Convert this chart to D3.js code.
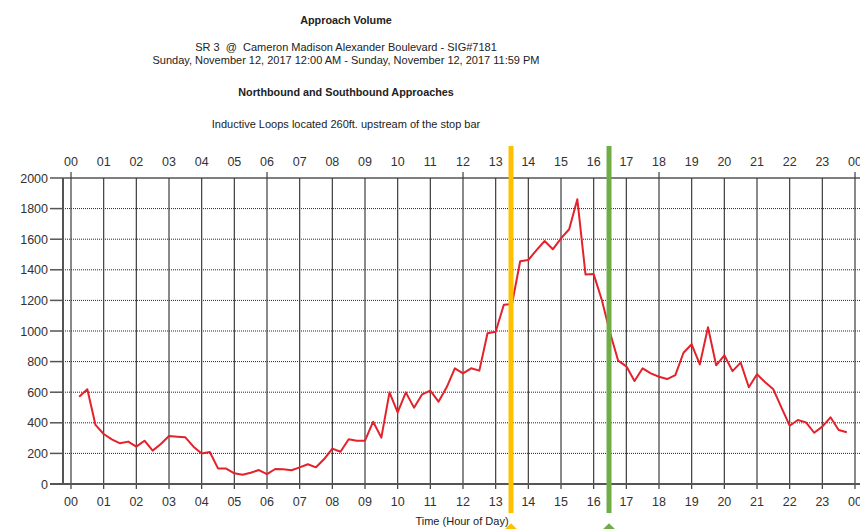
<!DOCTYPE html>
<html>
<head>
    <title>Approach Volume</title>
    <script src="https://d3js.org/d3.v7.min.js"></script>
    <style>
        body { margin: 0; background: #fff; }
        text { font-family: "Liberation Sans", Arial, sans-serif; fill: #222; }
        .title { font-weight: bold; font-size: 10.8px; white-space: pre; }
        .sub { font-size: 11px; white-space: pre; }
        .tick-label { font-size: 12.5px; fill: #333; }
    </style>
</head>
<body>
    <div id="chart"></div>

    <script>
        // volume per 15 minutes, first reading at 00:15, last at 23:45
        const volumes = [
            571, 619, 386,
            327, 292, 266, 277,
            244, 283, 218, 261,
            314, 309, 305, 244,
            200, 209, 102, 101,
            70, 60, 74, 91,
            65, 98, 97, 90,
            109, 129, 109, 163,
            231, 211, 292, 283,
            283, 407, 303, 599,
            468, 599, 499, 586,
            610, 538, 632, 756,
            723, 756, 741, 985,
            995, 1172, 1176, 1456,
            1464, 1529, 1588, 1534,
            1605, 1665, 1861, 1370,
            1372, 1203, 990, 806,
            769, 673, 756, 723,
            701, 686, 712, 858,
            913, 782, 1024, 776,
            841, 738, 793, 632,
            717, 665, 619, 499,
            381, 418, 403, 335,
            375, 436, 353, 338
        ];
        const hourTicks = d3.range(0, 25);
        const hourLabels = ["00","01","02","03","04","05","06","07","08","09","10","11",
                            "12","13","14","15","16","17","18","19","20","21","22","23","00"];
        const yTicks = [0, 200, 400, 600, 800, 1000, 1200, 1400, 1600, 1800, 2000];
        const markers = [
            { hour: 13.47, color: "#FFC000" },
            { hour: 16.47, color: "#70AD47" }
        ];
        const titles = [
            { text: "Approach Volume", y: 24, cls: "title" },
            { text: "SR 3  @  Cameron Madison Alexander Boulevard - SIG#7181", y: 51, cls: "sub" },
            { text: "Sunday, November 12, 2017 12:00 AM - Sunday, November 12, 2017 11:59 PM", y: 64, cls: "sub" },
            { text: "Northbound and Southbound Approaches", y: 96, cls: "title" },
            { text: "Inductive Loops located 260ft. upstream of the stop bar", y: 128, cls: "sub" }
        ];

        const width = 860, height = 529;
        const svg = d3.select("#chart").append("svg")
            .attr("width", width)
            .attr("height", height);

        const x = d3.scaleLinear().domain([0, 24]).range([71, 855]);
        const y = d3.scaleLinear().domain([0, 2000]).range([484, 178]);
        const left = 63, right = 860;

        // titles
        svg.selectAll(".ttl").data(titles).join("text")
            .attr("class", d => d.cls)
            .attr("x", 346)
            .attr("y", d => d.y)
            .attr("text-anchor", "middle")
            .text(d => d.text);

        // horizontal dotted gridlines
        svg.append("g").selectAll("line").data(yTicks.filter(v => v > 0 && v < 2000)).join("line")
            .attr("x1", left).attr("x2", right)
            .attr("y1", d => y(d)).attr("y2", d => y(d))
            .attr("stroke", "#222")
            .attr("stroke-dasharray", "1,1");

        // top frame
        svg.append("line")
            .attr("x1", left).attr("x2", right)
            .attr("y1", y(2000)).attr("y2", y(2000))
            .attr("stroke", "#555").attr("stroke-width", 1.5);

        // vertical gridlines (longer on top every 6 hours)
        svg.append("g").selectAll("line").data(hourTicks).join("line")
            .attr("x1", d => x(d)).attr("x2", d => x(d))
            .attr("y1", d => d % 6 === 0 ? 172 : y(2000))
            .attr("y2", 489)
            .attr("stroke", "#3c3c3c")
            .attr("stroke-width", 1.2);

        // left axis and ticks
        svg.append("line")
            .attr("x1", left).attr("x2", left)
            .attr("y1", y(2000)).attr("y2", y(0))
            .attr("stroke", "#555").attr("stroke-width", 2);
        svg.append("g").selectAll("line").data(yTicks).join("line")
            .attr("x1", 50).attr("x2", left)
            .attr("y1", d => y(d)).attr("y2", d => y(d))
            .attr("stroke", "#555").attr("stroke-width", 1.5);
        svg.append("g").selectAll("text").data(yTicks).join("text")
            .attr("class", "tick-label")
            .attr("x", 48)
            .attr("y", d => y(d))
            .attr("dy", "0.36em")
            .attr("text-anchor", "end")
            .text(d => d);

        // bottom axis
        svg.append("line")
            .attr("x1", 50).attr("x2", right)
            .attr("y1", y(0)).attr("y2", y(0))
            .attr("stroke", "#555").attr("stroke-width", 2);

        // hour labels, top and bottom
        svg.append("g").selectAll("text").data(hourTicks).join("text")
            .attr("class", "tick-label")
            .attr("x", d => x(d))
            .attr("y", 166)
            .attr("text-anchor", "middle")
            .text(d => hourLabels[d]);
        svg.append("g").selectAll("text").data(hourTicks).join("text")
            .attr("class", "tick-label")
            .attr("x", d => x(d))
            .attr("y", 506)
            .attr("text-anchor", "middle")
            .text(d => hourLabels[d]);

        svg.append("text")
            .attr("class", "sub")
            .attr("x", 462)
            .attr("y", 525)
            .attr("text-anchor", "middle")
            .text("Time (Hour of Day)");

        // volume line
        const line = d3.line()
            .x((d, i) => x((i + 1) / 4))
            .y(d => y(d));
        svg.append("path")
            .datum(volumes)
            .attr("fill", "none")
            .attr("stroke", "#E3222B")
            .attr("stroke-width", 2)
            .attr("stroke-linejoin", "round")
            .attr("d", line);

        // time markers
        const mk = svg.append("g").selectAll("g").data(markers).join("g")
            .attr("transform", d => `translate(${x(d.hour)},0)`);
        mk.append("line")
            .attr("y1", 146).attr("y2", 513)
            .attr("stroke", d => d.color)
            .attr("stroke-width", 5);
        mk.append("path")
            .attr("d", d3.symbol(d3.symbolDiamond2, 120)())
            .attr("transform", "translate(0,530)")
            .attr("fill", d => d.color);
    </script>
</body>
</html>
